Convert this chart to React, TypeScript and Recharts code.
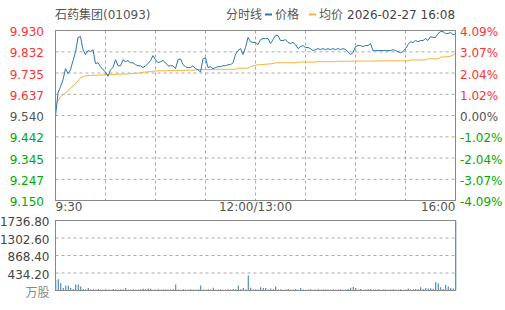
import { ComposedChart, Line, Bar, XAxis, YAxis, CartesianGrid } from 'recharts'

const FONT = '"DejaVu Sans", "Noto Sans CJK SC", sans-serif'
const RED = '#f33'
const GREEN = '#0a0'
const GRAY = '#555'
const BLUE = '#2a78b0'
const ORANGE = '#f8b13a'
const GRID = '#aaa'
const BORDER = '#888'

const PREV_CLOSE = 9.54

// one slot every ~2 minutes, 9:30 .. 16:00
const timeTicks = [0, 20, 40, 60, 80, 100, 120, 140, 160]
const timeLabels: Record<number, string> = { 0: '9:30', 80: '12:00/13:00', 160: '16:00' }

const priceTicks = [9.15, 9.247, 9.345, 9.442, 9.54, 9.637, 9.735, 9.832, 9.93]
const priceLabels = ['9.150', '9.247', '9.345', '9.442', '9.540', '9.637', '9.735', '9.832', '9.930']
const pctLabels = ['-4.09%', '-3.07%', '-2.04%', '-1.02%', '0.00%', '1.02%', '2.04%', '3.07%', '4.09%']

const volTicks = [0, 434.2, 868.4, 1302.6, 1736.8]
const volLabels = ['万股', '434.20', '868.40', '1302.60', '1736.80']

const prices = [
  9.535, 9.644, 9.672, 9.704, 9.755, 9.732, 9.75, 9.792, 9.83, 9.898,
  9.902, 9.842, 9.82, 9.838, 9.833, 9.842, 9.778, 9.782, 9.764, 9.75,
  9.74, 9.72, 9.75, 9.76, 9.796, 9.768, 9.768, 9.796, 9.787, 9.792,
  9.782, 9.782, 9.773, 9.768, 9.768, 9.76, 9.768, 9.778, 9.792, 9.815,
  9.796, 9.782, 9.787, 9.792, 9.782, 9.768, 9.768, 9.768, 9.755, 9.796,
  9.8, 9.773, 9.764, 9.76, 9.76, 9.768, 9.755, 9.75, 9.74, 9.8,
  9.805, 9.76, 9.764, 9.755, 9.76, 9.764, 9.764, 9.768, 9.768, 9.773,
  9.773, 9.782, 9.82, 9.838, 9.847, 9.82, 9.852, 9.898, 9.879, 9.875,
  9.875, 9.865, 9.888, 9.893, 9.893, 9.893, 9.87, 9.888, 9.907, 9.907,
  9.884, 9.884, 9.888, 9.875, 9.87, 9.875, 9.865, 9.847, 9.856, 9.861,
  9.852, 9.852, 9.847, 9.838, 9.842, 9.847, 9.842, 9.847, 9.842, 9.847,
  9.842, 9.847, 9.842, 9.847, 9.842, 9.847, 9.842, 9.833, 9.82, 9.828,
  9.856, 9.861, 9.861, 9.856, 9.861, 9.861, 9.87, 9.838, 9.838, 9.838,
  9.838, 9.838, 9.838, 9.838, 9.838, 9.842, 9.838, 9.833, 9.828, 9.833,
  9.847, 9.865, 9.879, 9.875, 9.884, 9.879, 9.884, 9.884, 9.893, 9.884,
  9.902, 9.898, 9.898, 9.916, 9.925, 9.925, 9.916, 9.916, 9.921, 9.911,
  9.911,
]

const avgPrices = [
  9.584, 9.607, 9.625, 9.635, 9.644, 9.653, 9.667, 9.676, 9.685, 9.699,
  9.713, 9.718, 9.722, 9.723, 9.724, 9.724, 9.725, 9.725, 9.726, 9.726,
  9.727, 9.727, 9.728, 9.728, 9.729, 9.729, 9.73, 9.73, 9.731, 9.731,
  9.732, 9.733, 9.734, 9.735, 9.736, 9.738, 9.739, 9.74, 9.742, 9.743,
  9.744, 9.745, 9.745, 9.745, 9.745, 9.746, 9.746, 9.746, 9.746, 9.747,
  9.747, 9.747, 9.747, 9.748, 9.748, 9.748, 9.748, 9.751, 9.751, 9.751,
  9.751, 9.751, 9.751, 9.751, 9.751, 9.752, 9.752, 9.752, 9.752, 9.752,
  9.752, 9.752, 9.752, 9.757, 9.757, 9.757, 9.757, 9.757, 9.764, 9.768,
  9.771, 9.773, 9.773, 9.774, 9.775, 9.776, 9.777, 9.778, 9.782, 9.782,
  9.782, 9.782, 9.782, 9.782, 9.782, 9.782, 9.782, 9.785, 9.785, 9.785,
  9.785, 9.785, 9.785, 9.785, 9.785, 9.787, 9.787, 9.787, 9.787, 9.787,
  9.787, 9.787, 9.787, 9.789, 9.789, 9.789, 9.789, 9.789, 9.789, 9.789,
  9.789, 9.79, 9.79, 9.79, 9.79, 9.79, 9.79, 9.79, 9.79, 9.79,
  9.79, 9.791, 9.791, 9.791, 9.791, 9.791, 9.791, 9.791, 9.791, 9.791,
  9.791, 9.791, 9.795, 9.795, 9.795, 9.795, 9.795, 9.795, 9.795, 9.8,
  9.8, 9.8, 9.8, 9.8, 9.808, 9.808, 9.809, 9.81, 9.812, 9.816,
  9.828,
]

const volumes = [
  260, 280, 180, 60, 125, 120, 65, 40, 150, 150,
  100, 40, 30, 65, 25, 30, 20, 35, 25, 20,
  30, 25, 20, 35, 25, 20, 30, 25, 65, 20,
  25, 30, 20, 25, 30, 45, 40, 50, 45, 20,
  25, 30, 20, 25, 30, 20, 25, 30, 150, 25,
  20, 30, 25, 20, 30, 25, 20, 30, 125, 25,
  20, 30, 25, 70, 20, 25, 30, 20, 25, 30,
  25, 40, 30, 125, 30, 60, 25, 370, 70, 25,
  30, 25, 80, 60, 60, 25, 50, 30, 100, 25,
  30, 20, 25, 40, 20, 25, 40, 20, 65, 25,
  20, 25, 30, 20, 25, 30, 20, 25, 30, 20,
  25, 30, 20, 25, 30, 20, 25, 40, 70, 90,
  60, 25, 40, 20, 25, 30, 40, 20, 25, 30,
  20, 25, 30, 20, 25, 30, 20, 25, 30, 20,
  25, 50, 25, 30, 40, 30, 80, 30, 60, 50,
  55, 45, 207, 180, 80, 40, 140, 100, 60, 50,
  1736.8,
]

const rows = prices.map((p, i) => ({ t: i, price: p, avg: avgPrices[i], vol: volumes[i] }))

function priceColor(v: number) {
  if (Math.abs(v - PREV_CLOSE) < 1e-6) return GRAY
  return v > PREV_CLOSE ? RED : GREEN
}

// left price label + right change-% label for the same gridline
function PriceTick({ y, payload }: any) {
  const i = priceTicks.indexOf(payload.value)
  const c = priceColor(payload.value)
  return (
    <g>
      <text x={44} y={y + 5.5} textAnchor="end" fontSize={12} fontFamily={FONT} fill={c}>
        {priceLabels[i]}
      </text>
      <text x={460} y={y + 5.5} textAnchor="start" fontSize={12} fontFamily={FONT} fill={c}>
        {pctLabels[i]}
      </text>
    </g>
  )
}

function TimeTick({ x, payload }: any) {
  const label = timeLabels[payload.value]
  if (!label) return null
  const anchor = payload.value === 0 ? 'start' : payload.value === 160 ? 'end' : 'middle'
  return (
    <text x={x} y={210.5} textAnchor={anchor} fontSize={12} fontFamily={FONT} fill={GRAY}>
      {label}
    </text>
  )
}

function VolTick({ y, payload }: any) {
  const i = volTicks.indexOf(payload.value)
  const isUnit = i === 0
  return (
    <text x={49.5} y={y + (isUnit ? 6.5 : 5.5)} textAnchor="end" fontSize={12} fontFamily={FONT} fill={isUnit ? '#888' : '#444'}>
      {volLabels[i]}
    </text>
  )
}

function Header() {
  return (
    <svg width={505} height={30} style={{ position: 'absolute', left: 0, top: 0 }}>
      <text x={55} y={18.5} fontSize={12} fontFamily={FONT} fill={GRAY}>石药集团(01093)</text>
      <text x={262} y={18.5} textAnchor="end" fontSize={12} fontFamily={FONT} fill={GRAY}>分时线</text>
      <line x1={265} x2={272} y1={14.5} y2={14.5} stroke={BLUE} strokeWidth={2} />
      <text x={275} y={18.5} fontSize={12} fontFamily={FONT} fill={GRAY}>价格</text>
      <line x1={309} x2={316} y1={14.5} y2={14.5} stroke={ORANGE} strokeWidth={2} />
      <text x={319} y={18.5} fontSize={12} fontFamily={FONT} fill={GRAY}>均价</text>
      <text x={347} y={18.5} fontSize={12} fontFamily={FONT} fill="#444">2026-02-27 16:08</text>
    </svg>
  )
}

// plain frame around each plot area
function Frame({ top, height }: { top: number; height: number }) {
  return (
    <div
      style={{
        position: 'absolute',
        left: 55,
        top,
        width: 401,
        height,
        border: `1px solid ${BORDER}`,
        boxSizing: 'border-box',
        pointerEvents: 'none',
      }}
    />
  )
}

export default function App() {
  return (
    <div style={{ position: 'fixed', left: 0, top: 0, width: 505, height: 310, background: '#fff' }}>
      <Header />
      <div style={{ position: 'absolute', left: 0, top: 0 }}>
        {/* half-pixel margins keep the 1px grid crisp */}
        <ComposedChart width={505} height={215} data={rows} margin={{ top: 30.5, right: 49.5, bottom: 0, left: 0.5 }}>
          <CartesianGrid yAxisId="p" stroke={GRID} strokeDasharray="3 3" />
          <XAxis
            dataKey="t"
            type="number"
            domain={[0, 160]}
            ticks={timeTicks}
            interval={0}
            height={14.5}
            axisLine={false}
            tickLine={false}
            tick={<TimeTick />}
          />
          <YAxis yAxisId="p" domain={[9.15, 9.93]} ticks={priceTicks} interval={0} width={55} axisLine={false} tickLine={false} tick={<PriceTick />} />
          <Line yAxisId="p" dataKey="avg" stroke={ORANGE} strokeWidth={1} dot={false} isAnimationActive={false} />
          <Line yAxisId="p" dataKey="price" stroke={BLUE} strokeWidth={1} dot={false} isAnimationActive={false} />
        </ComposedChart>
      </div>
      <div style={{ position: 'absolute', left: 0, top: 205 }}>
        <ComposedChart width={505} height={105} data={rows} margin={{ top: 15.5, right: 49.5, bottom: 19.5, left: 0.5 }}>
          <CartesianGrid stroke={GRID} strokeDasharray="3 3" />
          <XAxis dataKey="t" type="number" domain={[0, 160]} ticks={timeTicks} interval={0} height={0} axisLine={false} tickLine={false} tick={false} />
          <YAxis domain={[0, 1736.8]} ticks={volTicks} interval={0} width={55} axisLine={false} tickLine={false} tick={<VolTick />} />
          <Bar dataKey="vol" fill={BLUE} barSize={1} isAnimationActive={false} />
        </ComposedChart>
      </div>
      <Frame top={30} height={171} />
      <Frame top={220} height={71} />
    </div>
  )
}
